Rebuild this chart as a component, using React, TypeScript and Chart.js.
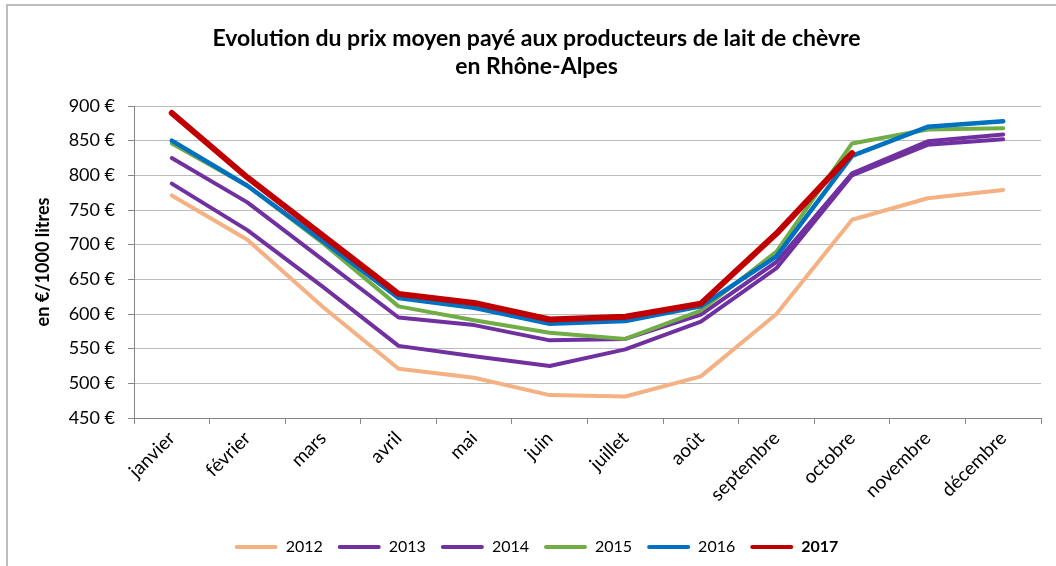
import React, { useEffect, useRef } from "react";
import { Chart, registerables } from "chart.js";

Chart.register(...registerables);

const months = ["janvier", "février", "mars", "avril", "mai", "juin", "juillet", "août", "septembre", "octobre", "novembre", "décembre"];
const years = ["2012", "2013", "2014", "2015", "2016", "2017"];
const prix2012 = [771, 707, 610, 521, 508, 483, 481, 510, 600, 736, 767, 779];
const prix2013 = [788, 721, 639, 554, 539, 525, 549, 589, 666, 800, 844, 852];
const prix2014 = [825, 761, 678, 595, 584, 562, 564, 599, 675, 803, 849, 859];
const prix2015 = [846, 785, 702, 611, 591, 573, 564, 605, 690, 846, 866, 868];
const prix2016 = [850, 785, 705, 623, 609, 586, 590, 611, 683, 828, 870, 878];
const prix2017 = [890, 797, 713, 629, 616, 592, 596, 615, 716, 832, null, null];
const series = [prix2012, prix2013, prix2014, prix2015, prix2016, prix2017];
const colors = ["#F4B183", "#7030A0", "#7030A0", "#70AD47", "#0070C0", "#C00000"];
const widths = [4, 4, 4, 4, 4.5, 6];

const titleLines = ["Evolution du prix moyen payé aux producteurs de lait de chèvre", "en Rhône-Alpes"];
const yTitle = "en €/1000 litres";
const FONT = "Lato";

const boldLastLegend = {
  id: "boldLastLegend",
  afterDraw(chart: any) {
    const legend = chart.legend;
    if (!legend || !legend.legendHitBoxes || !legend.legendItems) return;
    const i = legend.legendItems.length - 1;
    const hb = legend.legendHitBoxes[i];
    if (!hb) return;
    const ctx = chart.ctx;
    const boxWidth = legend.options.labels.boxWidth;
    const fs = 16;
    const x = hb.left + boxWidth + fs / 2;
    const y = hb.top + hb.height / 2;
    ctx.save();
    ctx.fillStyle = "#ffffff";
    ctx.fillRect(x - 1, hb.top - 2, hb.width - boxWidth - fs / 2 + 10, hb.height + 4);
    ctx.fillStyle = "#000000";
    ctx.font = `bold ${fs}px ${FONT}`;
    ctx.textAlign = "left";
    ctx.textBaseline = "middle";
    ctx.fillText(legend.legendItems[i].text, x, y);
    ctx.restore();
  },
};

export default function App() {
  const ref = useRef<HTMLCanvasElement | null>(null);
  useEffect(() => {
    if (!ref.current) return;
    const chart = new Chart(ref.current, {
      type: "line",
      data: {
        labels: months,
        datasets: years.map((y, i) => ({
          label: y,
          data: series[i],
          borderColor: colors[i],
          backgroundColor: colors[i],
          borderWidth: widths[i],
          pointRadius: 0,
          pointHoverRadius: 0,
          tension: 0,
          borderJoinStyle: "round" as const,
          borderCapStyle: "round" as const,
          spanGaps: false,
          order: years.length - 1 - i,
        })),
      },
      plugins: [boldLastLegend],
      options: {
        responsive: false,
        animation: false,
        layout: { padding: { left: 32, right: 15, top: 0, bottom: 0 } },
        plugins: {
          title: {
            display: true,
            text: titleLines,
            color: "#000",
            font: { family: FONT, size: 23, weight: "bold", lineHeight: 28 / 23 },
            padding: { top: 25, bottom: 25 },
          },
          legend: {
            position: "bottom",
            labels: {
              color: "#000",
              font: { family: FONT, size: 16 },
              boxWidth: 43,
              boxHeight: 4,
              padding: 15,
              useBorderRadius: true,
              borderRadius: 2,
              sort: (a: any, b: any) => a.datasetIndex - b.datasetIndex,
              generateLabels: (chart: any) => {
                const items = Chart.defaults.plugins.legend.labels.generateLabels(chart);
                return items.map((it: any) => ({ ...it, lineWidth: 0 }));
              },
            },
          },
          tooltip: { enabled: false },
        },
        scales: {
          x: {
            offset: true,
            grid: { display: true, drawOnChartArea: false, drawTicks: true, tickLength: 6, color: "#868686", offset: true },
            border: { display: true, color: "#868686", width: 1 },
            ticks: {
              color: "#000",
              font: { family: FONT, size: 19 },
              maxRotation: 45,
              minRotation: 45,
              autoSkip: false,
              padding: 3,
            },
            afterFit: (s: any) => {
              s.height = 106;
            },
          },
          y: {
            min: 450,
            max: 900,
            grid: { color: "#bcbcbc", lineWidth: 1, tickColor: "#868686", tickLength: 6 },
            border: { display: true, color: "#868686", width: 1 },
            ticks: {
              stepSize: 50,
              color: "#000",
              font: { family: FONT, size: 18 },
              padding: 13,
              callback: (v: any) => `${v} €`,
            },
            title: {
              display: true,
              text: yTitle,
              color: "#000",
              font: { family: FONT, size: 18, weight: "bold" },
              padding: { top: 0, bottom: 0 },
            },
            afterFit: (s: any) => {
              s.width = 102;
            },
          },
        },
      },
    });
    return () => chart.destroy();
  }, []);

  return (
    <div style={{ position: "fixed", left: 0, top: 0, width: 1056, height: 566, overflow: "hidden", background: "#fff" }}>
      <div style={{ position: "absolute", left: 6, top: 4, width: 1200, height: 800, borderLeft: "2px solid #bdbdbd", borderTop: "2px solid #bdbdbd" }} />
      <canvas ref={ref} width={1056} height={565} style={{ position: "absolute", left: 0, top: 0, width: 1056, height: 565 }} />
    </div>
  );
}
